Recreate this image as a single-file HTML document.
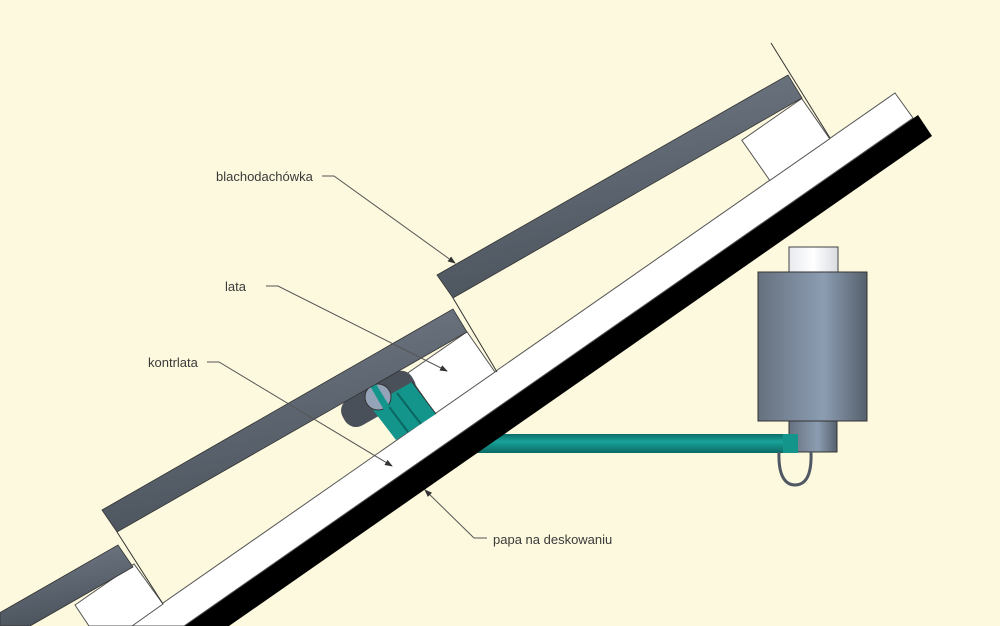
<!DOCTYPE html>
<html><head><meta charset="utf-8"><style>
html,body{margin:0;padding:0;background:#fdf9de;width:1000px;height:626px;overflow:hidden;}
svg{display:block;overflow:hidden;}
text{font-family:"Liberation Sans",sans-serif;font-size:13px;fill:#3a3a3a;}
</style></head><body>
<svg width="1000" height="626" viewBox="0 0 1000 626" xmlns="http://www.w3.org/2000/svg">
<defs>
<linearGradient id="tile" x1="0" y1="0" x2="0.3" y2="1">
<stop offset="0" stop-color="#737c87"/><stop offset="1" stop-color="#4b535d"/></linearGradient>
<linearGradient id="body" x1="0" y1="0" x2="1" y2="0">
<stop offset="0" stop-color="#66717f"/><stop offset="0.6" stop-color="#8c9db2"/><stop offset="1" stop-color="#55606c"/></linearGradient>
<linearGradient id="cap" x1="0" y1="0" x2="1" y2="0">
<stop offset="0" stop-color="#e8eaee"/><stop offset="0.5" stop-color="#ffffff"/><stop offset="1" stop-color="#d8dbe0"/></linearGradient>
<linearGradient id="rod" x1="0" y1="0" x2="0" y2="1">
<stop offset="0" stop-color="#0b6e68"/><stop offset="0.4" stop-color="#19a39a"/><stop offset="1" stop-color="#0a6a64"/></linearGradient>
<marker id="ar" markerWidth="8" markerHeight="6" refX="7" refY="3" orient="auto" markerUnits="userSpaceOnUse">
<path d="M0,0 L8,3 L0,6 z" fill="#333"/></marker>
</defs>

<rect x="450" y="434" width="348" height="19" fill="url(#rod)"/>

<polygon points="918,115 932,136 229,626 184,626" fill="#000"/>
<polygon points="895,93 913,118 184,626 130,626" fill="#fff" stroke="#555" stroke-width="1"/>
<g transform="translate(918,115) rotate(-34.87)">
<rect x="-159" y="-80" width="73" height="49" fill="#fff" stroke="#555" stroke-width="1"/>
<rect x="-567" y="-80" width="73" height="49" fill="#fff" stroke="#555" stroke-width="1"/>
</g>
<polygon points="75,605 134,564 163,604 132,626 89,626" fill="#fff" stroke="#555" stroke-width="1"/>

<g transform="translate(378,398) rotate(-29.8)">
<rect x="-40" y="-14" width="80" height="30" rx="13" fill="#4a5059"/>
</g>
<polygon points="370,406 412,382 436,414 396,440" fill="#13958c"/>
<line x1="384" y1="400" x2="408" y2="432" stroke="#0a6660" stroke-width="2"/>
<line x1="397" y1="393" x2="421" y2="424" stroke="#0a6660" stroke-width="2"/>
<line x1="412" y1="382" x2="436" y2="414" stroke="#333" stroke-width="1"/>
<circle cx="378" cy="397" r="13" fill="#95a3b8" stroke="#333" stroke-width="1"/>
<polygon points="370,386 376,384 390,407 384,410" fill="#13958c"/>

<polygon points="437,275 788,75 802,98 453,298" fill="url(#tile)" stroke="#333" stroke-width="0.8"/>
<polygon points="102,510 453,309 467,332 117,532" fill="url(#tile)" stroke="#333" stroke-width="0.8"/>
<polygon points="0,612.6 118,545 133,567 30,626 0,626" fill="url(#tile)" stroke="#333" stroke-width="0.8"/>

<line x1="771" y1="43" x2="830" y2="138" stroke="#333" stroke-width="1"/>
<line x1="453" y1="298" x2="497" y2="372" stroke="#333" stroke-width="1"/>
<line x1="117" y1="532" x2="163" y2="604" stroke="#333" stroke-width="1"/>

<rect x="789" y="247" width="49" height="25" fill="url(#cap)" stroke="#444" stroke-width="1"/>
<rect x="758" y="272" width="109" height="149" fill="url(#body)" stroke="#333" stroke-width="1"/>
<rect x="789" y="421" width="48" height="31" fill="url(#body)" stroke="#333" stroke-width="1"/>
<rect x="783" y="434" width="15" height="19" fill="#13958c"/>
<path d="M779,452 C778,480 788,485 795,485 C804,485 812,478 811,452" fill="none" stroke="#4f5863" stroke-width="3"/>

<text x="216" y="181">blachodachówka</text>
<polyline points="322,176 334,176 455,263" fill="none" stroke="#555" stroke-width="1" marker-end="url(#ar)"/>
<text x="225" y="291">lata</text>
<polyline points="266,286 278,286 447,371" fill="none" stroke="#555" stroke-width="1" marker-end="url(#ar)"/>
<text x="148" y="367">kontrlata</text>
<polyline points="207,362 219,362 392,466" fill="none" stroke="#555" stroke-width="1" marker-end="url(#ar)"/>
<text x="493" y="544">papa na deskowaniu</text>
<polyline points="487,538 474,538 425,490" fill="none" stroke="#555" stroke-width="1" marker-end="url(#ar)"/>
</svg>
</body></html>
